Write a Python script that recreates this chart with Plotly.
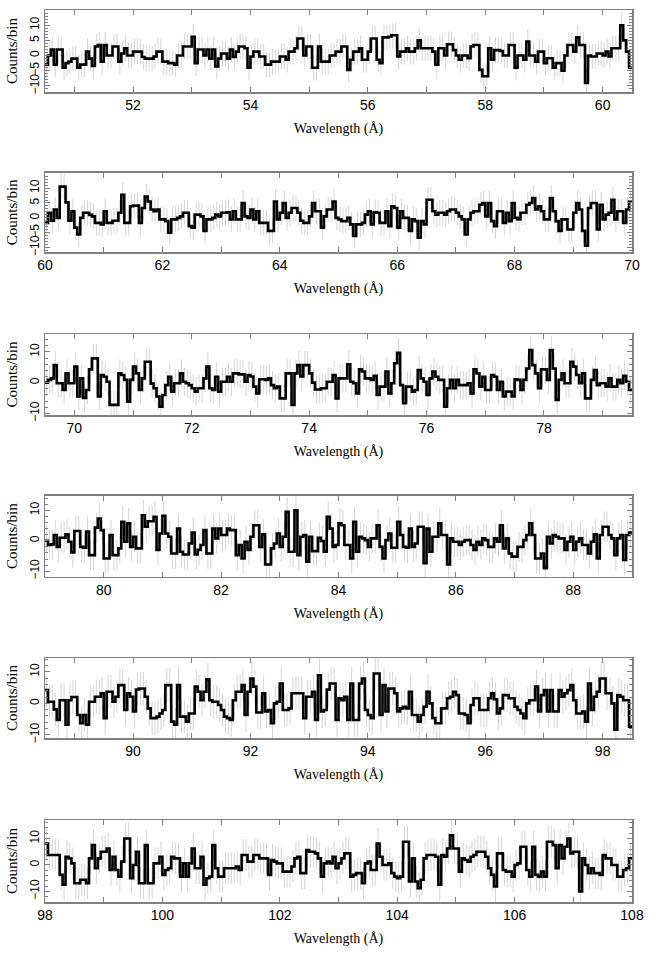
import math
import plotly.graph_objects as go

# ---------------- data ----------------
bin_width = 0.05  # Angstrom per bin

p1_start = 50.5
p1_counts = [
    -3, 0, 2, -3, 2, 2, -4, -2.5, -2, -1,
    -1, -4, -3, -3, 1.3, -1, -3.4, 3, 3.5, -2,
    3.5, 0, 0, 3, 3, -2, 0.7, 2.4, 0, 0,
    1.3, 1.3, 1.3, -0.5, -1, -1, -1, -0.3, 1.3, 1.3,
    -2, -2, -2.5, -2.5, -3, 0, 0, 3, 3, 3,
    6.2, -2.5, 2, 2, 0, 2, -1, 2, -3.6, -1,
    0.7, 0.7, -1, 2, -0.5, 1.3, 3, 3, 2.4, -4,
    -0.3, 1.3, 1.3, -0.3, -0.3, -3, -3, -2, -2, -2,
    -0.3, -0.3, -1.4, 1.3, 1.3, 2.4, 5.6, 5.6, 0, 3,
    3, -4, -4, 3, -2, -2, -2, 0, 0, 1.3,
    1.3, 3, 3, -4.7, -1.4, 1.3, 1.3, 2.4, -1.4, -1.4,
    1.3, 5.6, 5.6, -1.4, -2.5, 6, 6, 6.2, 6.7, 6.7,
    -0.3, 1.3, 1.3, 2.4, 1.3, 1.3, 2.4, 5, 2.4, 2.4,
    2.4, 2.4, 1.3, -3, 2.4, 2.4, 0, 3.7, 3.7, 1.8,
    0, -1.4, 0, 0, -0.9, 3, 3.5, 3.5, -4.7, -6.8,
    -6.8, 2.4, -1.4, 1.8, 1.8, 1.5, 0, 0, 3.5, 3.5,
    -4, 0, 0, -1.4, 4.6, 0, 0, -2, 1.3, 1.3,
    -2.5, -0.9, -0.9, -4, -2.5, -2.5, -5, 0, 3.5, 3.5,
    1.3, 6, 3.5, 3.5, -9, 0, -0.3, -0.3, 0.7, 0.7,
    0, 1.3, -0.3, 2.4, 2.4, 2.4, 10, 5, 1.3, -4,
]
p1_err = 4.2

p2_start = 60.0
p2_counts = [
    -1.7, 1.7, -1, 2.8, 0, 10.5, 10.5, 5.2, -1, 2.2,
    -3.3, -5.6, 0, 1.7, 1.7, 1, 0.5, -1.7, -1.7, -2.2,
    2.2, -1.7, -1.7, -1, -1, 1.7, 7.8, -1.7, -1.7, 3.9,
    4.1, 4.1, -1.7, 3.3, 7.2, 5.5, 2.8, 2.2, 2.8, -0.5,
    -0.5, -1.1, -5, -0.5, -0.5, 0, 0.5, 1.7, 1.7, -2.8,
    -3.3, 1.1, 1.1, 0.5, -4.4, -0.5, -0.5, 0, 1.1, 0.5,
    1.7, 1.7, 1.9, -0.5, 2.2, -0.5, -0.5, 5, 0.5, 0,
    2.8, -0.5, 2.2, -1.7, -1.7, -1.7, -4.4, -4.4, 5.5, -0.5,
    1.7, 5, 0, 1.7, 3.3, 3.3, 1.7, -1, -1.7, -1.7,
    0.5, 5, 2.2, 2.2, -3.3, 0.5, 2.8, 2.8, 5.5, 0,
    -0.5, -1.1, -1.1, 0, -2.2, -6.1, -2.2, -2.2, -1.7, 1.1,
    2.2, -2.2, 1.9, 1.7, -1.7, -1.7, 2.2, -2.8, 3.9, 3.3,
    -3.3, 2.2, 0, 0, -4.4, -0.5, -1.1, -6.7, -1.1, -2.2,
    6.1, 6.1, 2.2, 1.1, 1.7, 1.7, 1.1, 2.2, 2.8, 2.8,
    1.7, 0.5, -0.5, -5.6, -0.5, 1.7, 2.2, 2.2, 4.4, 5,
    0.5, 5, -1.1, -2.8, 2.2, 2.2, -1.7, 1.7, -1.1, 5,
    0, -0.5, 1.7, 1.7, 4.4, 5, 6.7, 2.8, 3.9, 2.2,
    -0.5, -0.5, 6.7, 2.2, -1.1, -4.4, -0.5, -0.5, -3.9, -3.9,
    1.7, 5, 2.8, -4.4, -9.4, 3.3, 5, 5, -3.9, 4.4,
    -0.5, 1.1, 1.7, 6.1, -0.5, 2.2, 2.2, -1.7, 2.8, 5.5,
]
p2_err = 4.3

p3_start = 69.5
p3_counts = [
    0, 0.9, 1.4, 5.7, -0.2, -0.2, -2.4, 3, -0.2, -0.2,
    5.2, -4.5, 1.4, -5, -2.4, 4.3, 7.9, 7.9, -4.5, 2.5,
    1.9, 0.3, -7.2, -7.2, -7.2, 3, 2.5, 0.9, -6.2, 0.9,
    5.2, 3, -2.4, 1.4, 6.8, 6.8, -0.3, -1.8, -4.5, -7.8,
    -4, -0.8, 1.9, -2.9, -0.2, -0.2, 3, 0.3, -0.2, -0.8,
    -1.8, -2.9, -1.8, -1.8, 1.4, 5.2, -1.8, -2.4, 1.9, -2.9,
    0.3, 0.3, 1.9, 0.3, 3, 3, 2.7, 2.7, 0.3, 2.5,
    2, -1.3, -3.5, 1.1, 1.1, 0.9, 1.4, -0.8, -1.8, -1.3,
    -5.1, -5.1, 3, 3, -7.2, 3, 5.7, 2, 5.7, 5.7,
    3, 0, -2.2, -2.2, -1.8, -1.8, 0.3, 0.3, 2.5, -5.1,
    1.4, 1.4, 1.4, 6, 0.3, -0.2, -3.5, 4.3, 3.6, 1.4,
    1.4, 0.9, 2.2, -4, -1.3, -1.3, 3.6, -3.5, -0.2, 6.3,
    9.7, -0.8, -6.7, -1.3, -1.3, -2.9, -2.4, 4.1, 1.4, 0.3,
    -4, 1.4, 3.6, 1.9, 0.9, 0.9, -7.8, -1.8, 0.9, -1.8,
    0.9, -0.8, -0.8, -0.8, -0.2, -3.5, 4.3, 3, -1.3, 1.9,
    -2.4, -2.4, 2.5, 1.9, -2.4, 0.3, -4.5, -2.9, -2.9, -4.5,
    1.1, 0.9, -2.4, 0.9, 4.6, 10.6, 5.7, 3, -1.8, 4.3,
    4.3, 0.9, 10.6, 4.6, -5.6, 0.9, 3, -0.2, -0.2, 6.8,
    5.2, 2.5, -0.2, 3, -5.1, -5.1, 0.9, 4.1, -0.8, -0.2,
    -0.2, -1.3, 1.4, -1.3, -1.3, 0.9, -0.2, 2.2, 0.3, -2.4,
]
p3_err = 4.6

p4_start = 79.0
p4_counts = [
    0, -1.4, -1.2, 1.9, -2, 1, 1, 2.1, -0.3, -3.8,
    3.2, 3.2, -2, -2.3, 3, -4.7, -4.7, 4.3, 7.3, 3.5,
    -5.8, -5.8, 1.9, -4.7, -4.7, -2.5, 6.2, -0.3, 5.7, -2,
    1.3, -2.5, -2.5, 8.4, 4.6, 6.4, 6.4, 7.9, -3, 2.4,
    8.2, 2.4, 1.3, -4.2, -4.2, 4, -3.6, -4.5, -4.5, -0.9,
    2.7, -4.5, -3, -1.4, 3.5, -4.2, -4.2, 4, 0.8, 4,
    1.9, 1.9, 4, 3.5, 3.5, -4.7, -1.4, -5.8, -0.3, -3,
    1.3, 5.1, 5.1, -2, 2.1, -7.8, -7.8, -2.5, -0.9, 2.4,
    -2, 1.3, 9.5, -3.6, -3.6, 10, -4.7, 1.3, 1.9, -6.9,
    1.3, -3.4, -3.4, 1, -0.1, -3.6, 7.9, 4, -2, -1.4,
    5.7, 5.1, -1.4, -1.4, -5.8, 6.2, -3.6, 1.3, 0.8, 0.2,
    -2, 0.8, 0.8, 5.1, -2, -5.8, 0.2, 2.4, -2.3, -2.3,
    6.2, 1.9, -2, -2.3, 4, -2, -0.9, 4.6, 4.6, -7.4,
    4, -3.6, 1.3, 1.3, 5.7, 1.9, 1.9, -7.8, 0.8, -0.3,
    -0.3, -1.4, -0.3, 0.2, 0.2, -1.4, -3, -0.3, -1.4, 0.8,
    0.2, -2, -2, 0.8, -0.3, 5.1, -2.5, 0.8, -4.2, -5.2,
    -5.2, -2, -2, 0.2, 1.9, 5.7, 1.9, -5.8, -5.8, -4.2,
    -9, 1.3, -0.9, 1.9, 1.3, 0.8, 0.8, -3, -0.3, 1.3,
    -3, -0.3, 0.8, -1.4, -1.4, -4.2, -0.3, 2.1, -5.8, 1.9,
    4.6, 4.6, 1.9, 0.8, -4.7, 0.8, 1.9, -6.3, 1.9, 2.7,
]
p4_err = 5.0

p5_start = 88.5
p5_counts = [
    4.2, 0.5, 0.5, -1.9, -5.3, 1, 1, -6.8, 1, 2,
    2, -3.7, -6.3, -3.7, -6.8, 0.5, 0.5, 2.1, 2.1, 3.2,
    -4.7, 3.7, 3.7, 0.5, 2.1, 5.8, 5.8, -2.1, 3.2, 2.1,
    -2.6, 4.4, 4.7, 4.7, 2.1, -1.6, -4.7, -4.7, -4.2, -3.2,
    -2.1, 5.8, 5.8, -5.8, -6.8, 5.8, -4.2, -4.2, -5.8, -3.2,
    -3.2, 5.3, 3.7, 1, 3.7, 7.6, 1, 0.5, 0.5, -0.5,
    -2.1, -4.2, -4.7, -5.3, 1, 3.7, 3.7, 5.8, -3.7, 3.7,
    7.9, 5.3, -2.9, -2.9, 3.2, -2.6, -2.1, -6.3, 0, 0.5,
    6.3, -2.1, -2.1, -1.6, 3.2, 3.2, 3.2, 3.2, -4.7, 2.1,
    2.1, 3.7, -5.3, 8.9, -2.6, -2.1, 4.4, 6.3, 6.3, -5.3,
    1.6, 1, 2.1, -5.3, 6.3, -5.3, -5.3, 6.3, 7.9, -2.1,
    -3.7, -4.7, 9.5, 9.5, -3.7, 5.8, -2.6, 4.7, 4.7, 3.2,
    -2.6, -1.6, -1.1, -1.6, 3.7, -3.7, -3.7, -5.8, -3.7, -1.1,
    3.7, 0, -4.7, -6.3, -6.3, -1.6, -1.6, 1.6, 2.1, 3.7,
    2.6, -3.2, -3.2, -3.7, -6.3, -0.5, 1.6, 1.6, -2.1, -2.1,
    -2.1, 1.6, 3.2, 1.3, -3.2, -1.6, 2.6, 2.6, 1.6, 1.6,
    -1.1, -2.1, -3.2, -4.7, 0, 1, 1, 5.3, -2.6, 2.6,
    4.2, -2.6, 4.2, -2.6, -2.6, 4.2, 2.1, 3.2, 4.2, 5.8,
    1, -3.2, -3.2, -2.6, -5.8, 6.3, -2.1, 2.1, 3.7, 7.9,
    7.9, 3.2, 3.2, 0, -8.4, 2.6, 2.1, 1, 1, -7.4,
]
p5_err = 5.3

p6_start = 98.0
p6_counts = [
    8.1, 3.75, 3.75, 3.75, 3.75, -3.75, -7.5, 3.1, 2.5, 0.6,
    -6.9, -6.9, -5.6, -5.6, -6.9, 2.5, 7.5, -1.25, 2.5, 5,
    5, 6.25, -1.9, 3.1, -1.9, -4.4, 1.25, 10, 10, -5,
    0, 5, -6.9, -6.9, 7.5, -6.9, -6.9, 0.6, 0.6, 3.1,
    -3.75, -1.9, -1.25, 3.1, 2.5, 2.5, -4.4, 0.6, -4.4, 0.6,
    6.25, -1.25, -1.25, 3.1, -7.5, -5, -4.4, 7.5, -1.25, -4.4,
    -4.4, -1.25, -1.25, -1.25, -1.25, -0.6, -1.9, 3.75, 3.75, 1.25,
    1.25, 3.75, 3.75, 2.5, 2.5, 2.5, -3.75, 1.9, 1.25, 0.6,
    0.6, -2.5, -2.5, -2.5, -0.6, 2.5, 3.1, -3.1, -3.1, 5.6,
    5, 5, 4.4, 2.5, -4.4, 0.6, 1.25, 0.6, 3.1, -1.25,
    0.6, 2.5, 4.4, 4.4, -4.4, -3.75, -3.1, -3.1, -6.9, 0.6,
    1.25, -1.9, -1.9, 8.1, 3.1, 0, 0, 0.6, -3.1, -4.4,
    -5, -4.4, 8.75, 8.75, -6.25, 2.5, -6.25, -8.75, -5.6, 2.5,
    3.75, 3.75, 3.75, 3.1, -7.5, 3.75, 3.1, 6.25, 11.25, 6.25,
    6.25, -2.5, 2.5, 1.9, 1.25, 3.1, 3.75, 5, 5, 5,
    3.1, -1.25, -3.75, -8.1, 4.4, 4.4, -1.9, -2.5, -2.5, -4.4,
    0, 0.6, 6.9, 6.9, -1.9, -4.4, 6.9, -3.75, -4.4, -2.5,
    -4.4, 8.75, 8.75, 7.5, -1.25, 7.5, 2.5, 6.9, 10, 4.4,
    5, 5, -10, 2.5, 0, -3.1, -1.25, -3.1, -3.1, -3.75,
    3.75, 2.5, 2.5, 0, 0, -4.4, -4.4, -1.9, -1.25, 2.5,
]
p6_err = 6.0

x_ranges = [[50.5, 60.5], [60, 70], [69.5, 79.5], [79, 89], [88.5, 98.5], [98, 108]]
y_ranges = [[-12, 15], [-11.5, 15.2], [-10.5, 15.8], [-11.8, 14.8], [-11, 14.4], [-14, 17]]
y_tickvals = [[-10, -5, 0, 5, 10], [-10, -5, 0, 5, 10], [-10, 0, 10],
              [-10, 0, 10], [-10, 0, 10], [-10, 0, 10]]
y_minor_step = [1, 1, 2, 2, 2, 2]
x_title = "Wavelength (Å)"
y_title = "Counts/bin"

# ---------------- figure ----------------
panels = [
    (p1_start, p1_counts, p1_err),
    (p2_start, p2_counts, p2_err),
    (p3_start, p3_counts, p3_err),
    (p4_start, p4_counts, p4_err),
    (p5_start, p5_counts, p5_err),
    (p6_start, p6_counts, p6_err),
]

W, H = 652, 953
ML, MR, MT, MB = 45, 20, 10, 51
plot_h = H - MT - MB
# panel pixel extents (top, bottom) in page coordinates
panel_px = [(10, 92), (172.7, 252), (334, 415), (495.7, 576.7), (658, 738), (820, 902)]

frame_col = "#808080"
tick_font = dict(family="Liberation Sans, Arial, sans-serif", size=14, color="black")
ytick_font = dict(family="Liberation Sans, Arial, sans-serif", size=12, color="black")
title_font = dict(family="Liberation Serif, Times New Roman, serif", size=14, color="black")
ytitle_font = dict(family="Liberation Serif, Times New Roman, serif", size=15, color="black")

fig = go.Figure()
layout = dict(
    width=W, height=H,
    margin=dict(l=ML, r=MR, t=MT, b=MB),
    paper_bgcolor="white", plot_bgcolor="white",
    showlegend=False,
)

for i, (start, counts, err) in enumerate(panels):
    n = len(counts)
    edges = [start + bin_width * k for k in range(n + 1)]
    centers = [start + bin_width * (k + 0.5) for k in range(n)]
    xa = "x" if i == 0 else f"x{i+1}"
    ya = "y" if i == 0 else f"y{i+1}"

    fig.add_trace(go.Scatter(
        x=centers, y=counts, xaxis=xa, yaxis=ya, mode="markers",
        marker=dict(size=1, color="rgba(0,0,0,0)"),
        error_y=dict(type="constant", value=err, color="#d4d4d4", thickness=1, width=0),
        hoverinfo="skip",
    ))
    fig.add_trace(go.Scatter(
        x=edges, y=list(counts) + [counts[-1]], xaxis=xa, yaxis=ya, mode="lines",
        line=dict(shape="hv", color="black", width=2.6),
        hoverinfo="skip",
    ))

    top_px, bot_px = panel_px[i]
    d_top = 1 - (top_px - MT) / plot_h
    d_bot = 1 - (bot_px - MT) / plot_h

    lo, hi = x_ranges[i]
    xt = list(range(math.ceil(lo), math.floor(hi) + 1))
    xtt = [str(v) if v % 2 == 0 else "" for v in xt]

    kx = "xaxis" if i == 0 else f"xaxis{i+1}"
    ky = "yaxis" if i == 0 else f"yaxis{i+1}"
    layout[kx] = dict(
        domain=[0, 1], anchor=ya, range=x_ranges[i],
        showline=True, linecolor=frame_col, linewidth=1.5, mirror="ticks",
        ticks="inside", ticklen=5, tickwidth=1, tickcolor=frame_col,
        tickmode="array", tickvals=xt, ticktext=xtt,
        tickfont=tick_font, showgrid=False, zeroline=False,
        title=dict(text=x_title, font=title_font, standoff=11),
        automargin=False,
    )
    layout[ky] = dict(
        domain=[d_bot, d_top], anchor=xa, range=y_ranges[i],
        showline=True, linecolor=frame_col, linewidth=1.5, mirror="ticks",
        ticks="inside", ticklen=5, tickwidth=1, tickcolor=frame_col,
        tickmode="array", tickvals=y_tickvals[i], tickangle=-90,
        tickfont=ytick_font, showgrid=False, zeroline=False,
        minor=dict(tickmode="linear", tick0=0, dtick=y_minor_step[i], ticks="inside",
                   ticklen=3, tickwidth=1, tickcolor=frame_col, showgrid=False),
        title=dict(text=y_title, font=ytitle_font, standoff=6),
        automargin=False,
    )

fig.update_layout(**layout)
fig.write_html(
    "out.html",
    config={"displayModeBar": False, "staticPlot": True},
    post_script="document.body.style.margin='0';document.body.style.overflow='hidden';",
)
